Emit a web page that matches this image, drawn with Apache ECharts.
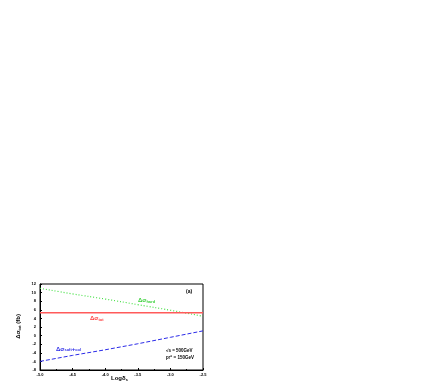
<!DOCTYPE html>
<html><head><meta charset="utf-8">
<script src="https://cdn.jsdelivr.net/npm/echarts@6/dist/echarts.min.js"></script>
<style>html,body{margin:0;padding:0;background:#fff}#c{width:443px;height:388px}</style>
</head><body><div id="c"></div>
<script>
const logDeltaS = [-5.0, -4.5, -4.0, -3.5, -3.0, -2.5];
const hardVals = [11.0, 9.7, 8.5, 7.2, 5.9, 4.5];
const totVals = [5.3, 5.3, 5.3, 5.3, 5.3, 5.3];
const softColVals = [-6.0, -4.6, -3.3, -1.9, -0.4, 1.1];

const pair = (xs, ys) => xs.map((x, i) => [x, ys[i]]);
const F = 'Liberation Sans, Arial, sans-serif';
const chart = echarts.init(document.getElementById('c'));
chart.setOption({
  animation: false,
  grid: {left: 40, right: 240, top: 284, bottom: 18, show: true, borderColor: '#000', borderWidth: 1},
  xAxis: {type: 'value', min: -5, max: -2.5, interval: 0.5,
    axisLine: {onZero: false, lineStyle: {color: '#000'}}, axisTick: {inside: true, length: 2, lineStyle: {color: '#000'}},
    minorTick: {show: true, splitNumber: 2, length: 1}, splitLine: {show: false},
    axisLabel: {fontSize: 4, fontFamily: F, fontWeight: 'bold', color: '#000', margin: 3,
      formatter: v => v.toFixed(1)}},
  yAxis: {type: 'value', min: -8, max: 12, interval: 2,
    axisLine: {onZero: false, lineStyle: {color: '#000'}}, axisTick: {inside: true, length: 2, lineStyle: {color: '#000'}},
    minorTick: {show: true, splitNumber: 2, length: 1}, splitLine: {show: false},
    axisLabel: {fontSize: 4, fontFamily: F, fontWeight: 'bold', color: '#000', margin: 4}},
  series: [
    {type: 'line', data: pair(logDeltaS, hardVals), symbol: 'none', smooth: true,
      lineStyle: {color: '#44e044', width: 1.2, type: [1, 2]}},
    {type: 'line', data: pair(logDeltaS, totVals), symbol: 'none',
      lineStyle: {color: '#ff5a5a', width: 1.5}},
    {type: 'line', data: pair(logDeltaS, softColVals), symbol: 'none',
      lineStyle: {color: '#2a2ae8', width: 1, type: [4, 2]}}
  ],
  graphic: [
    {type: 'text', left: 186, top: 289, style: {text: '(a)', font: 'bold 5px ' + F, fill: '#000'}},
    {type: 'text', left: 138, top: 297, style: {text: '{a|Δσ}{s|hard}', fill: '#3ad03a',
      rich: {a: {font: 'bold 6px ' + F, fill: '#3ad03a'}, s: {font: 'bold 4px ' + F, fill: '#3ad03a', padding: [3, 0, 0, 0]}}}},
    {type: 'text', left: 90, top: 315, style: {text: '{a|Δσ}{s|tot}', fill: '#ff4040',
      rich: {a: {font: 'bold 6px ' + F, fill: '#ff4040'}, s: {font: 'bold 4px ' + F, fill: '#ff4040', padding: [3, 0, 0, 0]}}}},
    {type: 'text', left: 56, top: 346, style: {text: '{a|Δσ}{s|soft}{a|+}{s|col}', fill: '#2a2ae8',
      rich: {a: {font: 'bold 6px ' + F, fill: '#2a2ae8'}, s: {font: 'bold 4px ' + F, fill: '#2a2ae8', padding: [2, 0, 0, 0]}}}},
    {type: 'text', left: 166, top: 348, style: {text: '√s = 500GeV', font: 'bold 4.5px ' + F, fill: '#000'}},
    {type: 'text', left: 166, top: 355, style: {text: '{a|p}{s|T}{u|c}{a| = 150GeV}',
      rich: {a: {font: 'bold 4.5px ' + F, fill: '#000'}, s: {font: 'bold 3px ' + F, fill: '#000', padding: [2, 0, 0, 0]},
             u: {font: 'bold 3px ' + F, fill: '#000', padding: [0, 0, 2, 0]}}}},
    {type: 'text', left: 111, top: 375, style: {text: '{a|Logδ}{s|s}',
      rich: {a: {font: 'bold 6px ' + F, fill: '#000'}, s: {font: 'bold 4px ' + F, fill: '#000', padding: [3, 0, 0, 0]}}}},
    {type: 'text', left: 15, top: 314, rotation: Math.PI / 2, style: {text: '{a|Δσ}{s|tot}{a| (fb)}',
      rich: {a: {font: 'bold 6px ' + F, fill: '#000'}, s: {font: 'bold 4px ' + F, fill: '#000', padding: [3, 0, 0, 0]}}}}
  ]
});
</script></body></html>
